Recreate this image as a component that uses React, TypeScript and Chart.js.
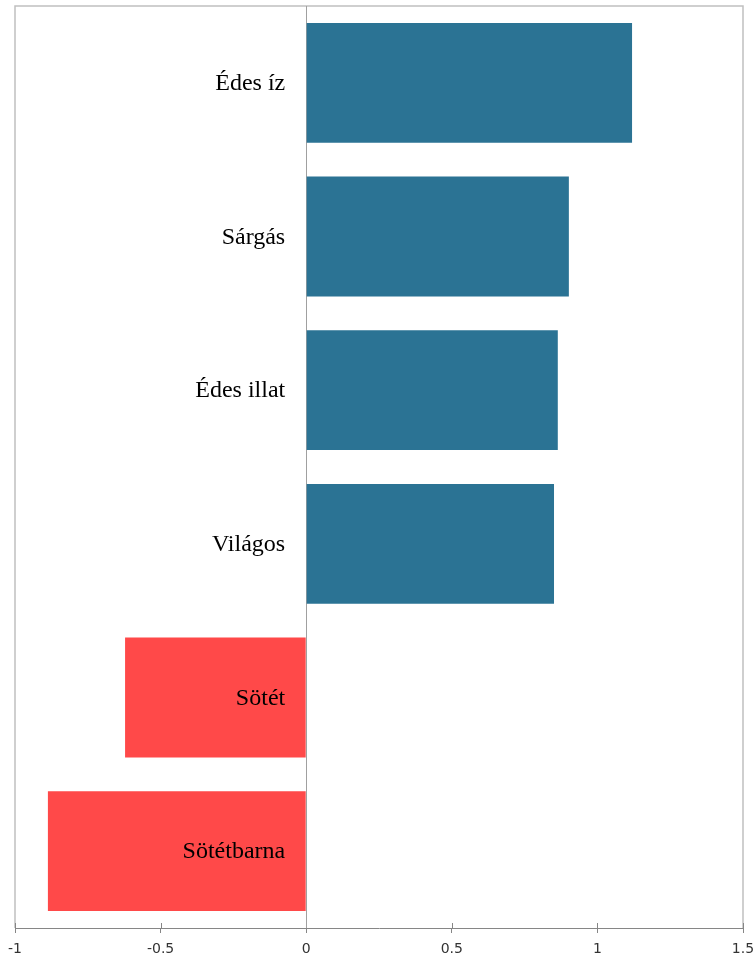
import React, { useEffect, useRef } from "react";
import { Chart, registerables } from "chart.js";

Chart.register(...registerables);

const categories = ["Édes íz", "Sárgás", "Édes illat", "Világos", "Sötét", "Sötétbarna"];
const values = [1.119, 0.902, 0.864, 0.851, -0.622, -0.887];
const xMin = -1;
const xMax = 1.5;
const xStep = 0.5;

const BLUE = "#2B7394";
const RED = "#FF4949";

const framePlugin = {
  id: "frame",
  beforeDatasetsDraw(chart: any) {
    const { ctx, chartArea, scales } = chart;
    ctx.save();
    ctx.strokeStyle = "#c0c0c0";
    ctx.lineWidth = 1.5;
    ctx.beginPath();
    ctx.moveTo(chartArea.left, chartArea.bottom);
    ctx.lineTo(chartArea.left, chartArea.top);
    ctx.lineTo(chartArea.right, chartArea.top);
    ctx.lineTo(chartArea.right, chartArea.bottom);
    ctx.stroke();
    const xs = scales.x;
    ctx.strokeStyle = "#868686";
    ctx.lineWidth = 1;
    xs.ticks.forEach((t: any) => {
      const px = Math.round(xs.getPixelForValue(t.value)) + 0.5;
      ctx.beginPath();
      ctx.moveTo(px, chartArea.bottom - 5);
      ctx.lineTo(px, chartArea.bottom);
      ctx.stroke();
    });
    const zx = Math.round(xs.getPixelForValue(0)) + 0.5;
    ctx.strokeStyle = "#a0a0a0";
    ctx.beginPath();
    ctx.moveTo(zx, chartArea.top);
    ctx.lineTo(zx, chartArea.bottom);
    ctx.stroke();
    ctx.restore();
  },
  afterDatasetsDraw(chart: any) {
    const { ctx, scales } = chart;
    const xs = scales.x;
    const ys = scales.y;
    const zx = xs.getPixelForValue(0);
    ctx.save();
    ctx.fillStyle = "#000000";
    ctx.font = "24px 'Liberation Serif'";
    ctx.textAlign = "right";
    ctx.textBaseline = "middle";
    categories.forEach((c, i) => {
      ctx.fillText(c, zx - 21, ys.getPixelForValue(i) + 1);
    });
    ctx.restore();
  },
};

export default function App() {
  const ref = useRef<HTMLCanvasElement | null>(null);

  useEffect(() => {
    document.body.style.margin = "0";
    const canvas = ref.current!;
    const chart = new Chart(canvas, {
      type: "bar",
      data: {
        labels: categories,
        datasets: [
          {
            data: values,
            backgroundColor: values.map((v) => (v < 0 ? RED : BLUE)),
            borderWidth: 0,
            barPercentage: 0.78,
            categoryPercentage: 1,
          },
        ],
      },
      options: {
        indexAxis: "y",
        animation: false,
        responsive: false,
        maintainAspectRatio: false,
        layout: { padding: { left: 15, right: 13, top: 6, bottom: 0 } },
        plugins: {
          legend: { display: false },
          tooltip: { enabled: false },
        },
        scales: {
          x: {
            type: "linear",
            position: "bottom",
            min: xMin,
            max: xMax,
            ticks: {
              stepSize: xStep,
              padding: 8,
              maxRotation: 0,
              color: "#333333",
              font: { family: "'DejaVu Sans'", size: 14 },
              callback: (v: any) => String(Number(v)),
            },
            grid: {
              display: true,
              drawOnChartArea: false,
              drawTicks: true,
              tickLength: 5,
              color: "#868686",
            },
            border: { display: true, color: "#868686", width: 1 },
            afterFit: (s: any) => {
              s.height = 30;
              s.paddingLeft = 0;
              s.paddingRight = 0;
            },
          },
          y: {
            type: "category",
            display: true,
            position: "left",
            ticks: { display: false },
            grid: { display: false, drawTicks: false },
            border: { display: false },
            afterFit: (s: any) => {
              s.width = 0;
              s.paddingTop = 0;
              s.paddingBottom = 0;
            },
          },
        },
      },
      plugins: [framePlugin],
    });
    return () => chart.destroy();
  }, []);

  return (
    <div style={{ position: "absolute", left: 0, top: 0, width: 756, height: 958 }}>
      <canvas ref={ref} width={756} height={958} style={{ display: "block" }} />
    </div>
  );
}
